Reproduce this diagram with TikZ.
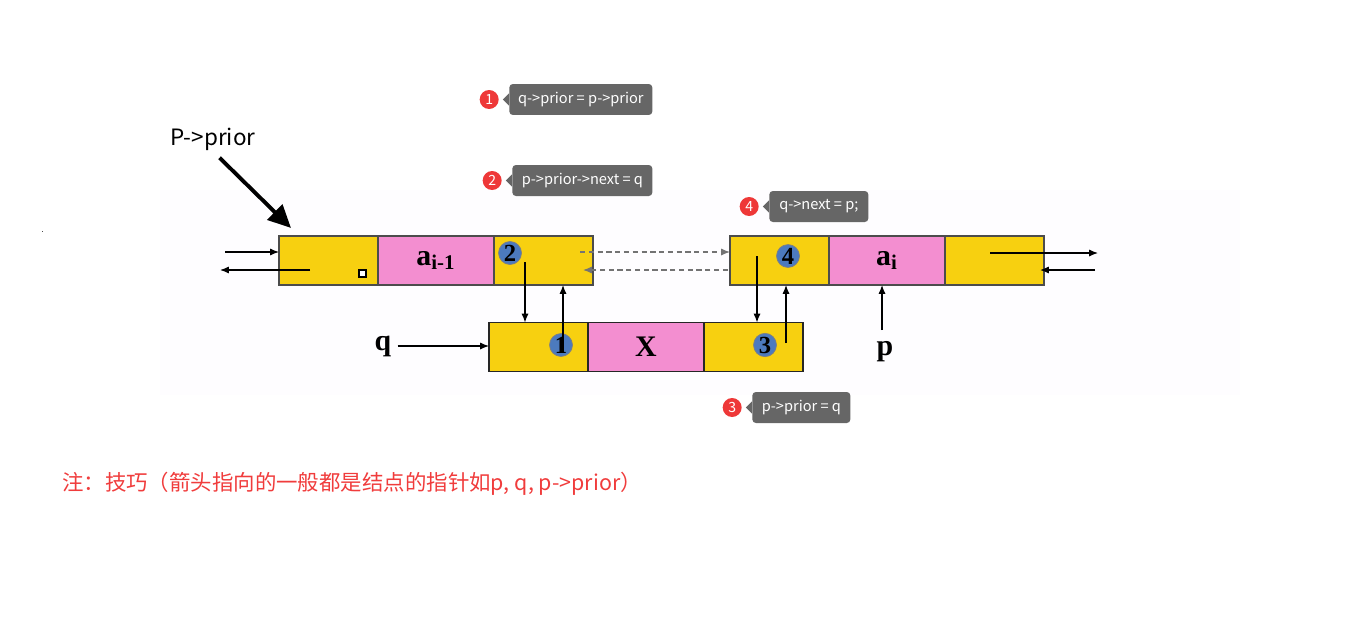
\documentclass[tikz,border=0pt]{standalone}
\usepackage{fontspec}
\setmainfont{Liberation Serif}
\newfontfamily\cjk{Noto Sans CJK SC}
\usetikzlibrary{arrows.meta,positioning,shapes.geometric}
\definecolor{cellyellow}{RGB}{247,208,16}
\definecolor{cellpink}{RGB}{243,142,208}
\definecolor{tipgray}{RGB}{102,102,102}
\definecolor{tipred}{RGB}{238,56,56}
\definecolor{notered}{RGB}{240,60,60}
\definecolor{markblue}{RGB}{76,122,190}
\definecolor{bgtint}{RGB}{254,253,255}

\begin{document}
\begin{tikzpicture}[
    x=0.02cm, y=-0.02cm,
    >={Latex[length=5pt,width=4pt]},
    % Styles
    cell/.style={rectangle, draw=black!70, line width=0.8pt, inner sep=0pt, outer sep=0pt, minimum height=0.98cm, font=\fontsize{17}{20}\selectfont\bfseries},
    ycell/.style={cell, fill=cellyellow, minimum width=1.98cm},
    pcell/.style={cell, fill=cellpink, minimum width=2.32cm},
    numdot/.style={ellipse, draw=black!50, fill=markblue, inner sep=0pt, minimum width=0.46cm, minimum height=0.38cm, font=\fontsize{14}{14}\selectfont\bfseries},
    ptr/.style={->, line width=0.7pt, black},
    link/.style={->, densely dashed, line width=0.7pt, black!55},
    tipbox/.style={rectangle, fill=tipgray, rounded corners=2pt, text=white, inner sep=0pt, minimum height=0.62cm, font=\cjk\fontsize{8.3}{10}\selectfont},
    tipnum/.style={circle, fill=tipred, text=white, inner sep=0pt, minimum size=0.38cm, font=\cjk\fontsize{8}{10}\selectfont},
    varname/.style={font=\fontsize{17}{20}\selectfont\bfseries}
]
\useasboundingbox (0,0) rectangle (1364,632);
\fill[bgtint] (160,190) rectangle (1240,395);

% --- Node a(i-1) ---
\node[ycell, anchor=west] (prev_prior) at (279,260.5) {};
\node[pcell, right=0pt of prev_prior] (prev_data) {a\textsubscript{i-1}};
\node[ycell, right=0pt of prev_data] (prev_next) {};

% --- Node a(i) ---
\node[ycell, anchor=west] (cur_prior) at (730,260.5) {};
\node[pcell, right=0pt of cur_prior] (cur_data) {a\textsubscript{i}};
\node[ycell, right=0pt of cur_data] (cur_next) {};

% --- New node X ---
\begin{scope}[cell/.append style={draw=black!85, line width=1.1pt}]
\node[ycell, anchor=west] (new_prior) at (489,347) {};
\node[pcell, right=0pt of new_prior] (new_data) {X};
\node[ycell, right=0pt of new_data] (new_next) {};
\end{scope}

% --- Step marks ---
\node[numdot] (dot_2) at (510,253) {2};
\node[numdot] (dot_1) at (561,345) {1};
\node[numdot] (dot_3) at (765,345) {3};
\node[numdot] (dot_4) at (788,256) {4};

% --- Outer links ---
\coordinate (l_in) at (225,252);
\coordinate (l_out) at (310,270);
\coordinate (l_out_end) at (220,270);
\draw[ptr] (l_in) -- (l_in -| prev_prior.west);
\draw[ptr] (l_out) -- (l_out_end);
\coordinate (r_out) at (990,253);
\coordinate (r_out_end) at (1098,253);
\coordinate (r_in) at (1095,270);
\coordinate (r_in_end) at (1040,270);
\draw[ptr] (r_out) -- (r_out_end);
\draw[ptr] (r_in) -- (r_in_end);

% --- Old links (dashed) ---
\coordinate (d_next) at (580,252);
\coordinate (d_prior) at (728,270);
\coordinate (d_prior_end) at (583,270);
\draw[link] (d_next) -- (d_next -| cur_prior.west);
\draw[link] (d_prior) -- (d_prior_end);

% --- New links ---
\coordinate (s_2) at (525,262);
\coordinate (s_1) at (563,352);
\coordinate (s_4) at (757,256);
\coordinate (s_3) at (786,343);
\draw[ptr] (s_2) -- (s_2 |- new_prior.north);
\draw[ptr] (s_1) -- (s_1 |- prev_next.south);
\draw[ptr] (s_4) -- (s_4 |- new_next.north);
\draw[ptr] (s_3) -- (s_3 |- cur_prior.south);

% --- Pointers q and p ---
\node[varname] (q) at (383,346) {q};
\draw[ptr] (q.east) -- (q.east -| new_prior.west);
\node[varname] (p) at (885,352) {p};
\coordinate (p_from) at (882,330);
\draw[ptr] (p_from) -- (p_from |- cur_data.south);

% --- P->prior ---
\node[font=\cjk\fontsize{12.8}{15}\selectfont] (pprior) at (213,139) {P->prior};
\coordinate (p_tip) at (291,228);
\draw[line width=2.2pt, shorten <=1pt, -{Triangle[length=13pt,width=12pt]}] ([xshift=3pt]pprior.south) -- (p_tip);

% --- Step tips ---
\node[tipbox, anchor=west, minimum width=2.86cm] (tip_1) at (509,99.5) {q->prior = p->prior};
\node[tipbox, anchor=west, minimum width=2.80cm] (tip_2) at (512,180.5) {p->prior->next = q};
\node[tipbox, anchor=west, minimum width=1.98cm] (tip_4) at (769,206.5) {q->next = p;};
\node[tipbox, anchor=west, minimum width=1.96cm] (tip_3) at (752,407.5) {p->prior = q};
\foreach \t/\n in {tip_1/1, tip_2/2, tip_4/4, tip_3/3} {
  \fill[tipgray] ([yshift=3.5pt]\t.west) -- ++(-3.5pt,-3.5pt) -- ++(3.5pt,-3.5pt) -- cycle;
  \node[tipnum, left=0.2cm of \t] (badge_\n) {\n};
}

% --- Note ---
\node[anchor=west, text=notered, font=\cjk\fontsize{12.2}{14}\selectfont] (note) at (56,484) {注：技巧（箭头指向的一般都是结点的指针如p, q, p->prior）};

% small marks
\draw[fill=white, line width=0.6pt] (359,270) rectangle (366,277);
\fill[black!70] (41.5,230.5) rectangle (43,232);
\end{tikzpicture}
\end{document}
